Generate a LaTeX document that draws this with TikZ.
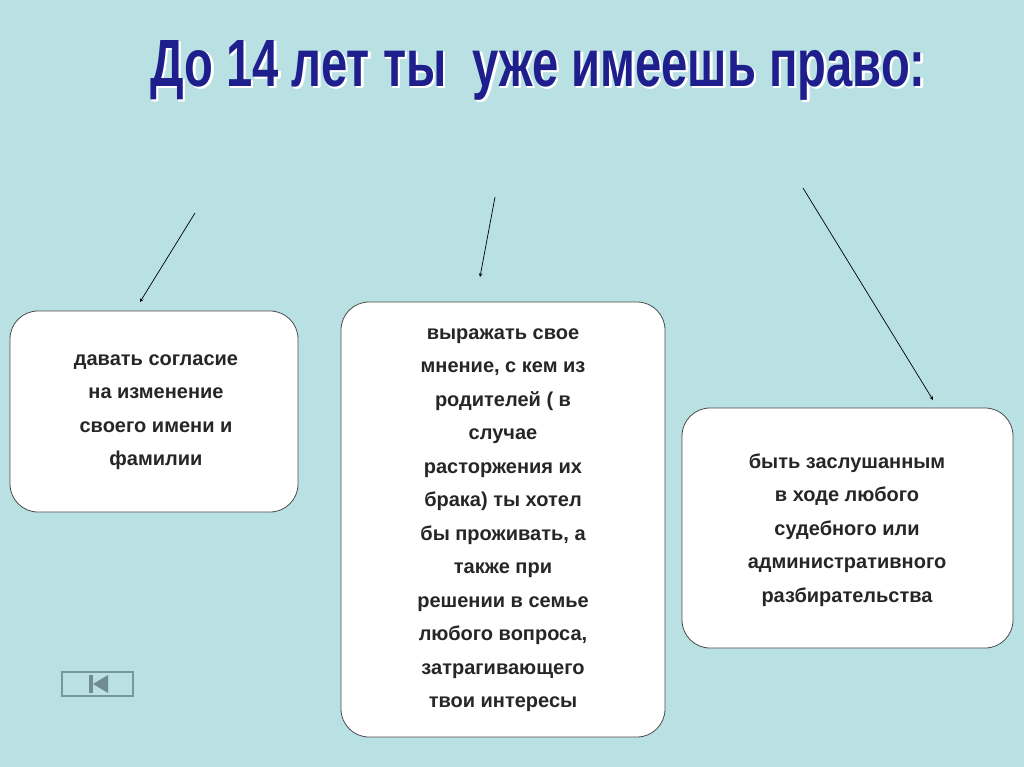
\documentclass[tikz,border=0pt]{standalone}
\usepackage{fontspec}
\setmainfont{Liberation Sans}
\definecolor{bg}{RGB}{185,224,227}
\definecolor{navline}{RGB}{120,150,155}
\definecolor{navfill}{RGB}{110,140,145}
\definecolor{titleblue}{RGB}{30,30,140}
\begin{document}
\begin{tikzpicture}[x=1pt,y=-1pt,
  box/.style={draw=black!70,line width=0.8pt,fill=white,rounded corners=28pt},
  txt/.style={align=center,font=\bfseries\fontsize{20}{33.5}\selectfont,text=black!85},
  arr/.style={-stealth,line width=0.7pt}]
\fill[bg] (0,0) rectangle (1024,767);
\useasboundingbox (0,0) rectangle (1024,767);
% title with white halo
\foreach \dx/\dy in {2/2,1.5/2.5,2.5/1.5}
  \node[text=white,font=\bfseries] at (538+\dx,70+\dy) {\resizebox{775pt}{46pt}{До 14 лет ты\ \ уже имеешь право:}};
\node[text=titleblue,font=\bfseries] (title) at (538,70)
  {\resizebox{775pt}{46pt}{До 14 лет ты\ \ уже имеешь право:}};
% boxes
\draw[box] (10,311) rectangle (298,512);
\draw[box] (341,302) rectangle (665,737);
\draw[box] (682,408) rectangle (1013,648);
\node[txt] (b1) at (156,412) {давать согласие\\на изменение\\своего имени и\\фамилии};
\node[txt] (b2) at (503,520) {выражать свое\\мнение, с кем из\\родителей ( в\\случае\\расторжения их\\брака) ты хотел\\бы проживать, а\\также при\\решении в семье\\любого вопроса,\\затрагивающего\\твои интересы};
\node[txt] (b3) at (847,530) {быть заслушанным\\в ходе любого\\судебного или\\административного\\разбирательства};
% arrows
\coordinate (s1) at (195,213); \coordinate (e1) at (140,302);
\coordinate (s2) at (495,197); \coordinate (e2) at (480,277);
\coordinate (s3) at (803,188); \coordinate (e3) at (933,400);
\draw[arr] (s1) -- (e1);
\draw[arr] (s2) -- (e2);
\draw[arr] (s3) -- (e3);
% nav button
\draw[line width=1.2pt,navline] (62,672) rectangle (133,696);
\fill[navfill] (89,675) rectangle (93,693);
\fill[navfill] (108,675) -- (93,684) -- (108,693) -- cycle;
\end{tikzpicture}
\end{document}
